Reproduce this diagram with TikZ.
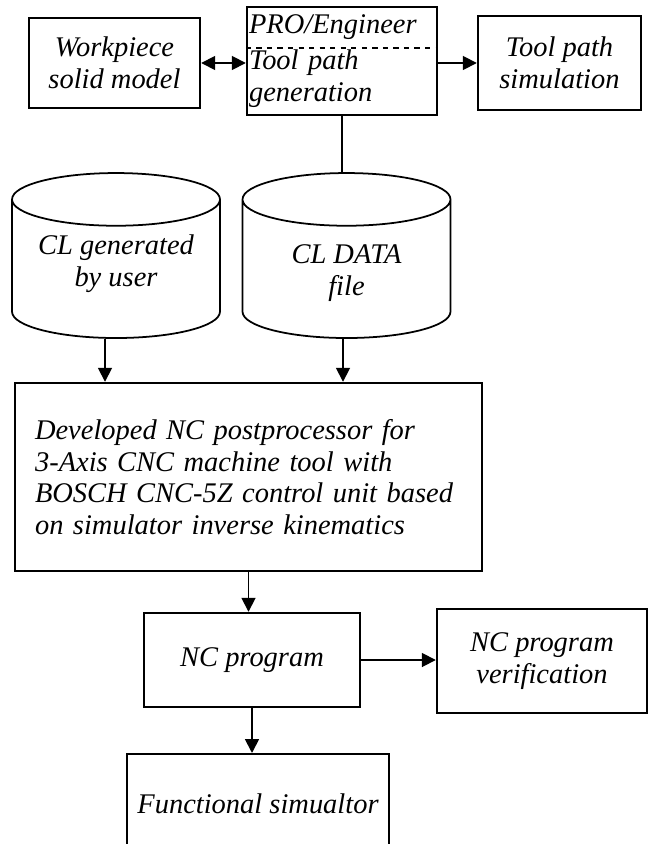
\documentclass[tikz,border=0pt]{standalone}
\usepackage{fontspec}
\setmainfont{Liberation Serif}
\usetikzlibrary{arrows.meta,shapes.geometric}

\begin{document}
\begin{tikzpicture}[x=0.02cm,y=-0.02cm,
  font=\fontsize{16.2}{18}\selectfont\itshape,
  >={Triangle[length=0.28cm,width=0.28cm]},
  blok/.style={draw,line width=1.4pt,inner sep=0pt},
  silo/.style={draw,line width=1pt,cylinder,shape border rotate=90,aspect=4.5,
    minimum width=4.16cm,minimum height=3.3cm},
  flow/.style={line width=1pt}]
\path[use as bounding box,clip] (0,0) rectangle (649,844);

\node[blok,minimum width=3.42cm,minimum height=1.8cm,align=center] (work) at (114.5,63) {Workpiece\\solid model};
\node[blok,minimum width=3.8cm,minimum height=2.16cm,text width=3.72cm,align=left] (pro) at (342,61) {PRO/Engineer\\[0.1cm]Tool path\\generation};
\draw[dashed,line width=0.9pt] (pro.west |- 0,48) -- (pro.east |- 0,48);
\node[blok,minimum width=3.26cm,minimum height=1.88cm,align=center] (sim) at (559.5,63) {Tool path\\simulation};

\node[silo] (cyl1) at (116,273.5) {};
\node[align=center] (cyl1txt) at (116,264) {CL generated\\by user};
\node[silo] (cyl2) at (346.5,273.5) {};
\node[align=center] (cyl2txt) at (346.5,273) {CL DATA\\file};

\node[blok,minimum width=9.34cm,minimum height=3.76cm,text width=8.54cm,align=left] (post) at (248.5,477) {Developed NC postprocessor for\\3-Axis CNC machine tool with\\BOSCH CNC-5Z control unit based\\on simulator inverse kinematics};

\node[blok,minimum width=4.32cm,minimum height=1.88cm] (nc) at (252,660) {NC program};
\node[blok,minimum width=4.2cm,minimum height=2.08cm,align=center] (ver) at (542,661) {NC program\\verification};
\node[draw,line width=1pt,minimum width=5.24cm,minimum height=2.0cm,anchor=north] (fun) at (258,753) {Functional simualtor};

\draw[flow,<->] (work.east) -- (work.east -| pro.west);
\draw[flow,->] (pro.east |- sim.west) -- (sim.west);
\draw[flow] (pro.south) -- (pro.south |- cyl2.north);
\draw[flow,->] ([xshift=-0.22cm]cyl1.south) -- ([xshift=-0.22cm]cyl1.south |- post.north);
\draw[flow,->] ([xshift=-0.07cm]cyl2.south) -- ([xshift=-0.07cm]cyl2.south |- post.north);
\draw[flow,->] (post.south) -- (post.south |- nc.north);
\draw[flow,->] (nc.east) -- (nc.east -| ver.west);
\draw[flow,->] (nc.south) -- (nc.south |- fun.north);
\end{tikzpicture}
\end{document}
